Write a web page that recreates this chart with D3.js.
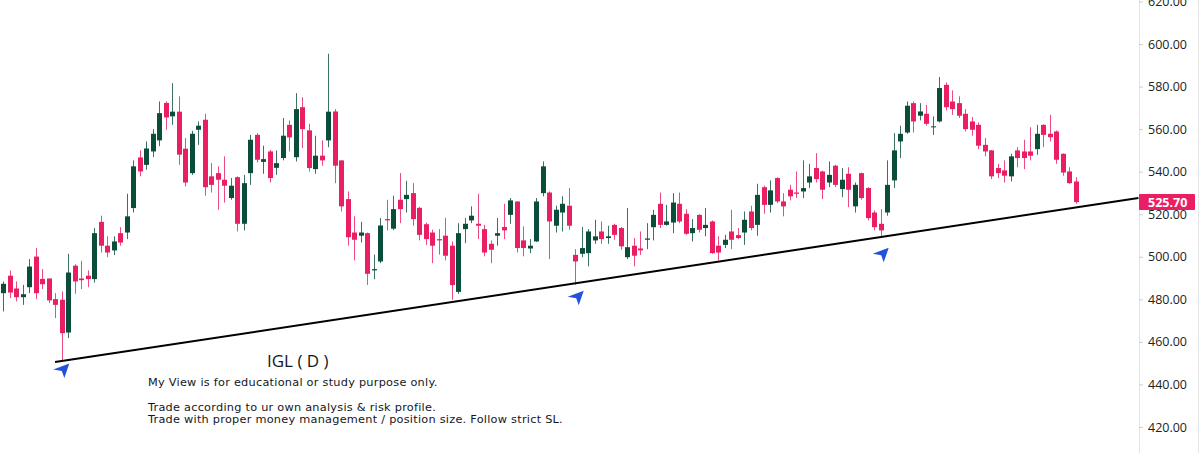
<!DOCTYPE html>
<html><head><meta charset="utf-8">
<script src="https://cdn.jsdelivr.net/npm/d3@7"></script>
<style>body{margin:0;background:#fff;}svg{display:block;}</style>
</head><body>
<svg id="c" width="1200" height="453"></svg>
<script>
// OHLC values (daily candles, oldest first)
const opens = [482.9,491.1,485.1,481.0,485.7,500.1,489.6,489.8,480.1,479.8,464.4,495.8,489.8,491.1,489.5,516.4,505.2,503.0,511.1,511.4,
522.9,546.7,543.2,549.5,554.7,572.3,566.0,568.2,550.8,539.3,559.7,564.4,537.8,539.3,536.2,527.6,537.4,515.5,539.3,557.3,
544.6,549.5,541.8,546.4,562.0,546.8,570.3,559.4,541.2,547.5,554.7,568.3,545.3,527.1,511.4,509.9,511.1,493.6,497.8,517.7,
513.2,526.8,527.1,529.9,523.0,515.3,511.4,508.3,509.9,505.2,483.5,513.0,517.1,515.5,513.0,506.1,509.9,514.0,519.7,526.0,
507.7,503.9,507.2,529.9,530.2,514.6,520.8,524.0,500.9,501.4,501.7,507.7,511.9,508.8,515.0,513.5,499.8,505.2,503.9,508.0,
513.9,524.9,515.0,516.1,524.9,520.2,511.1,519.7,513.5,516.6,505.2,505.6,511.9,510.2,511.4,521.3,515.0,532.7,524.4,537.0,
526.0,531.5,530.2,530.7,534.9,541.7,540.1,534.9,542.8,531.8,539.0,523.7,539.3,532.3,520.8,515.5,520.8,535.9,554.2,558.4,
572.2,566.3,567.2,560.9,563.6,580.8,573.0,572.2,567.2,563.6,562.0,552.6,550.0,541.7,540.6,537.8,550.0,549.5,549.5,550.6,
562.0,557.8,558.9,548.4,540.1,535.4];
const highs = [488.4,493.6,488.4,486.8,498.9,504.1,494.2,489.8,482.9,483.7,501.4,496.5,498.1,493.6,513.5,519.3,509.6,509.6,513.9,529.6,
545.3,550.0,554.2,560.0,573.0,573.0,581.6,575.4,555.8,559.2,563.6,567.2,544.0,542.5,547.2,537.0,537.8,538.5,557.3,558.1,
552.2,550.3,550.0,565.2,564.1,576.9,575.0,562.5,556.9,554.7,595.4,569.4,545.3,530.7,519.0,516.4,511.4,501.0,518.2,526.8,
528.7,539.3,535.7,534.6,523.5,516.1,512.7,513.0,518.3,507.2,515.8,518.2,523.7,529.6,515.0,507.7,518.2,524.9,527.6,526.0,
514.3,508.3,527.6,544.8,530.7,524.0,528.4,532.3,503.6,514.0,513.0,517.4,516.6,514.6,515.5,514.0,522.9,508.8,511.9,515.8,
522.1,530.2,524.4,529.9,530.2,522.4,517.7,520.0,522.9,517.1,509.6,510.3,522.1,513.5,521.3,524.0,534.3,533.4,535.9,537.4,
529.9,533.8,540.1,545.3,543.7,548.7,540.5,544.8,543.2,541.7,542.1,534.9,539.6,532.7,521.8,522.4,545.3,558.1,561.6,573.0,
573.0,572.2,571.4,566.0,584.5,581.9,578.2,575.4,569.4,565.7,563.1,555.8,550.2,543.7,545.3,548.4,551.5,555.0,560.9,562.0,
562.2,566.7,559.4,548.6,542.1,537.4];
const lows = [474.3,480.6,479.0,477.4,482.9,480.1,484.8,478.2,471.2,450.8,461.8,482.6,484.8,485.7,487.9,502.0,499.8,500.8,505.2,508.3,
520.8,537.8,540.9,546.9,552.0,559.7,562.0,543.2,533.1,538.5,552.6,528.7,530.2,522.1,525.5,526.8,511.9,512.4,533.8,544.3,
539.0,534.9,538.5,545.3,549.5,544.8,551.1,540.1,539.0,542.8,551.5,534.6,521.3,505.2,498.3,506.7,486.8,489.5,497.0,512.4,
512.5,515.8,520.8,514.6,507.7,505.6,497.0,501.0,498.3,479.8,482.6,506.4,515.8,508.3,500.2,497.0,505.2,508.3,515.5,502.0,
500.2,501.7,507.0,528.4,498.9,511.4,511.9,512.7,486.8,499.8,495.5,506.1,506.1,506.1,508.0,503.3,498.9,495.5,500.9,503.6,
507.7,513.5,514.6,511.1,515.8,510.3,507.2,511.4,509.6,501.4,498.3,504.1,503.6,508.3,505.6,512.4,509.9,520.2,520.8,525.2,
519.0,526.5,527.6,527.6,532.3,534.9,527.1,532.7,532.7,528.0,523.3,520.8,526.8,517.1,512.4,508.8,519.3,532.3,546.4,557.8,
558.4,564.1,561.6,557.3,563.1,568.8,566.7,565.2,558.9,556.9,550.6,547.2,536.5,537.0,534.9,535.4,542.1,541.2,545.3,547.9,
551.5,554.2,543.7,538.1,534.3,524.9];
const closes = [487.3,483.2,481.0,482.4,495.4,482.9,487.1,479.5,477.4,464.1,492.6,488.4,489.0,489.5,511.1,505.2,502.0,507.2,506.7,519.0,
542.5,540.1,550.9,557.8,567.5,565.5,568.2,548.0,534.9,557.8,561.6,532.7,533.8,536.2,533.4,533.4,515.5,534.6,555.0,545.6,
545.9,537.0,544.0,556.9,556.1,569.4,560.0,541.7,547.5,545.3,568.2,542.8,523.7,509.2,508.0,511.4,492.0,494.2,514.7,517.1,
522.4,522.4,529.1,517.7,510.3,508.3,505.2,507.7,500.5,486.7,511.1,515.5,519.3,514.6,502.0,503.3,511.1,512.4,526.5,504.1,
504.1,505.2,526.0,542.5,516.6,522.1,524.9,514.6,497.8,504.1,511.9,509.6,508.3,509.6,510.3,504.9,504.5,500.5,503.0,508.6,
519.7,515.0,516.6,525.5,516.6,510.8,513.5,512.7,515.0,501.7,502.0,508.0,508.0,508.8,517.4,513.5,529.1,524.4,531.2,526.0,
523.7,528.4,529.6,532.3,537.8,536.5,531.5,538.5,533.8,536.2,531.5,533.8,527.6,518.2,513.9,512.4,533.8,550.0,557.8,571.0,
563.6,568.3,562.5,561.3,579.3,570.3,569.4,566.3,560.0,559.7,552.2,549.5,537.8,539.3,538.1,547.2,546.4,546.4,547.5,557.8,
557.3,556.2,545.6,539.6,534.6,525.7];

const priceTicks = [420,440,460,480,500,520,540,560,580,600,620];
const lastPrice = 525.70;

// Support trendline (candle index, price)
const trendIdx = [8.0, 174.6];
const trendPrice = [450.5, 527.6];

// Blue arrow markers (candle index, price of arrow tip)
const arrowIdx = [10.2, 89.3, 136.2];
const arrowPrice = [449.8, 484.0, 504.2];

const title = "IGL ( D )";
const notes = [
  "My View is for educational or study purpose only.",
  "Trade according to ur own analysis & risk profile.",
  "Trade with proper money management / position size. Follow strict SL."
];

const UP = "#0b4d3b", DOWN = "#e91e63";
const svg = d3.select("#c");
const axisX = 1139;

const x = d3.scaleLinear().domain([0, opens.length - 1]).range([3, 1076]);
const y = d3.scaleLinear().domain([420, 600]).range([427, 44]);

const candles = opens.map((o, i) => ({i, o, h: highs[i], l: lows[i], c: closes[i]}));

svg.append("defs").append("clipPath").attr("id","plot")
  .append("rect").attr("x",0).attr("y",0).attr("width",axisX).attr("height",453);

const plot = svg.append("g").attr("clip-path","url(#plot)");

const g = plot.selectAll("g.candle").data(candles).join("g").attr("class","candle");
g.append("line")
  .attr("x1", d => Math.round(x(d.i)) + 0.5).attr("x2", d => Math.round(x(d.i)) + 0.5)
  .attr("y1", d => y(d.h)).attr("y2", d => y(d.l))
  .attr("stroke", d => d.c >= d.o ? UP : DOWN).attr("stroke-width", 1).attr("opacity", 0.8);
g.append("rect")
  .attr("x", d => Math.round(x(d.i)) - 2)
  .attr("width", 5)
  .attr("y", d => y(Math.max(d.o, d.c)))
  .attr("height", d => Math.max(1, Math.abs(y(d.o) - y(d.c))))
  .attr("fill", d => d.c >= d.o ? UP : DOWN);

// trendline
plot.append("line")
  .attr("x1", x(trendIdx[0])).attr("y1", y(trendPrice[0]))
  .attr("x2", x(trendIdx[1])).attr("y2", y(trendPrice[1]))
  .attr("stroke", "#000").attr("stroke-width", 2);

// arrows
const arrowPath = "M0,0 L-16,6 L-7.5,7.5 L-5,14.5 Z";
arrowIdx.forEach((ai, k) => {
  svg.append("path")
    .attr("d", arrowPath)
    .attr("transform", `translate(${x(ai)},${y(arrowPrice[k])})`)
    .attr("fill", "#2152d9");
});

// right price axis
const axis = d3.axisRight(y).tickValues(priceTicks).tickFormat(d3.format(".2f")).tickSize(4).tickPadding(5);
const ag = svg.append("g").attr("transform", `translate(${axisX},0)`).call(axis);
ag.select(".domain").attr("d", "M0.5,0V453").attr("stroke", "#e0e3eb");
ag.selectAll(".tick line").attr("stroke", "#c9ccd3");
ag.selectAll(".tick text").attr("fill", "#222").attr("font-family", "'Open Sans', sans-serif").attr("font-size", "12.5px");

// last price tag
const tag = svg.append("g").attr("transform", `translate(${axisX},${y(lastPrice)})`);
tag.append("rect").attr("x", 0).attr("y", -8).attr("width", 56).attr("height", 16).attr("fill", "#e91e63").attr("rx", 1);
tag.append("text").attr("x", 9).attr("y", 4.5).attr("fill", "#fff")
  .attr("font-family", "'Open Sans', sans-serif").attr("font-size", "12.5px").attr("font-weight", "bold")
  .text(d3.format(".2f")(lastPrice));

// right border
svg.append("line").attr("x1", 1198.5).attr("x2", 1198.5).attr("y1", 0).attr("y2", 453).attr("stroke", "#e6e6e6");

// annotation text
svg.append("text").attr("x", 267).attr("y", 367).attr("fill", "#131722")
  .attr("font-family", "'Open Sans', sans-serif").attr("font-size", "17px").text(title);
const nb = [386, 410.5, 423.2];
notes.forEach((t, k) => {
  svg.append("text").attr("x", 148).attr("y", nb[k]).attr("fill", "#131722")
    .attr("font-family", "'DejaVu Sans', sans-serif").attr("font-size", "11.3px")
    .attr("letter-spacing", "0.25px").text(t);
});
</script>
</body></html>
